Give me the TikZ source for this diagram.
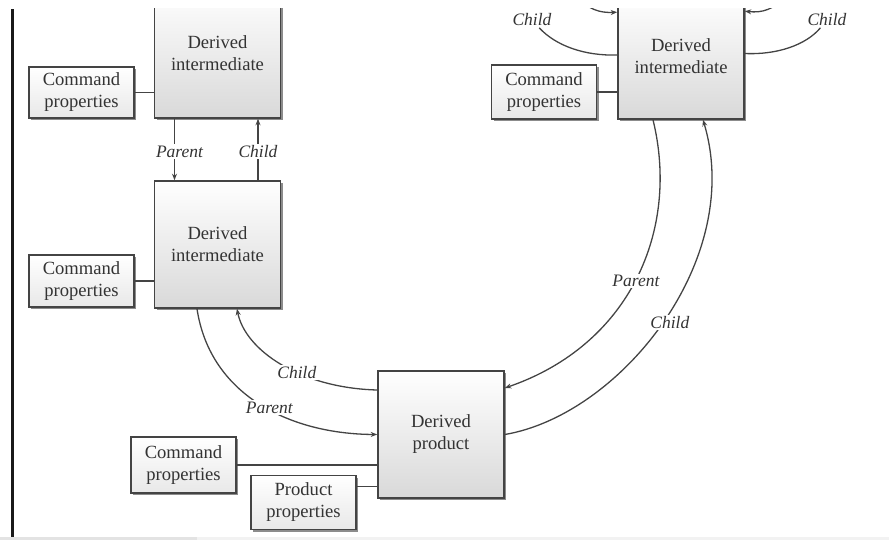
\documentclass[tikz,border=0pt]{standalone}
\usepackage{fontspec}
\setmainfont{Liberation Serif}
\usetikzlibrary{shadows,calc,arrows.meta}
\definecolor{ink}{HTML}{333333}
\definecolor{edge}{HTML}{444444}
\begin{document}
\begin{tikzpicture}[x=1pt,y=-1pt,
  box/.style={draw=edge, line width=1.6pt, top color=white, bottom color=gray!30,
    drop shadow={shadow xshift=2.2pt, shadow yshift=-2.2pt, fill=black, opacity=0.45},
    text=ink, align=center, font=\fontsize{18.6}{22}\selectfont, inner sep=0pt},
  bigbox/.style={box, minimum width=126pt},
  propbox/.style={box, minimum width=105pt, bottom color=gray!18},
  link/.style={draw=edge, line width=1.3pt},
  rel/.style={link, -{Stealth[length=6.5pt,width=5pt]}},
  tag/.style={font=\fontsize{17.5}{20}\selectfont\itshape, text=ink, fill=white, inner sep=1.5pt},
]
\useasboundingbox (0,0) rectangle (889,540);

% page edge and bottom strip
\fill[black!90] (10.5,9) rectangle (14,537);
\fill[gray!22] (0,537) rectangle (197,540);
\fill[gray!10] (197,537) rectangle (889,540);

\begin{scope}
\clip (14,9) rectangle (889,537);

% derived objects
\node[bigbox, minimum height=130pt] (tl) at (217.5,53) {Derived\\intermediate};
\node[bigbox, minimum height=127pt] (ml) at (217.5,244.5) {Derived\\intermediate};
\node[bigbox, minimum height=127pt] (prod) at (441,434.5) {Derived\\product};
\node[bigbox, minimum height=125pt] (tr) at (681,56.5) {Derived\\intermediate};

% property boxes
\node[propbox, minimum height=51pt] (cp1) at (81.5,92.5) {Command\\properties};
\node[propbox, minimum height=52pt] (cp2) at (81.5,281) {Command\\properties};
\node[propbox, minimum height=56pt] (cp3) at (183.5,465) {Command\\properties};
\node[propbox, minimum height=54pt] (pp) at (303.5,502.5) {Product\\properties};
\node[propbox, minimum height=54pt] (cp4) at (544,92) {Command\\properties};

% property attachments
\coordinate (ppx) at ($(pp.north east)+(0,12)$);
\draw[link] (cp1.east) -- (cp1.east -| tl.west);
\draw[link] (cp2.east) -- (cp2.east -| ml.west);
\draw[link] (cp3.east) -- (cp3.east -| prod.west);
\draw[link] (ppx) -- (ppx -| prod.west);
\draw[link] (cp4.east) -- (cp4.east -| tr.west);

% top-left to middle
\draw[rel] ($(tl.south)+(-43,0)$) -- node[tag, xshift=5pt, yshift=-2pt] {Parent} ($(ml.north)+(-43,0)$);
\draw[rel] ($(ml.north)+(40.5,0)$) -- node[tag, yshift=-2pt] {Child} ($(tl.south)+(40.5,0)$);

% middle to product
\draw[rel] ($(ml.south)+(-20.5,0)$) .. controls (210,395) and (290,434) ..
  node[tag, pos=0.55, yshift=2pt] {Parent} (prod.west);
\draw[rel] ($(prod.west)+(0,-44.5)$) .. controls (300,388) and (245,350) ..
  node[tag, pos=0.4] {Child} ($(ml.south)+(19.5,0)$);

% top-right to product
\draw[rel] ($(tr.south)+(-28,0)$) .. controls (680,230) and (630,345) ..
  node[tag, pos=0.5, yshift=-2pt] {Parent} ($(prod.east)+(0,-46.5)$);
\draw[rel] (prod.east) .. controls (620,415) and (745,260) ..
  node[tag, pos=0.5, xshift=7pt] {Child} ($(tr.south)+(22,0)$);

% links of the top-right object
\coordinate (inL) at (574,-6);
\coordinate (inR) at (788,-6);
\node[tag] (chL) at (532,20) {Child};
\node[tag] (chR) at (827,20) {Child};
\draw[rel] (inL) .. controls (588,10) and (600,13) .. ($(tr.north west)+(0,19)$);
\draw[rel] (inR) .. controls (774,10) and (762,13) .. ($(tr.north east)+(0,18)$);
\draw[link] ($(tr.west)+(0,-1.5)$) .. controls (585,56) and (556,46) .. (chL);
\draw[link] ($(tr.east)+(0,-3)$) .. controls (777,55) and (806,45) .. (chR);
\end{scope}
\end{tikzpicture}
\end{document}
